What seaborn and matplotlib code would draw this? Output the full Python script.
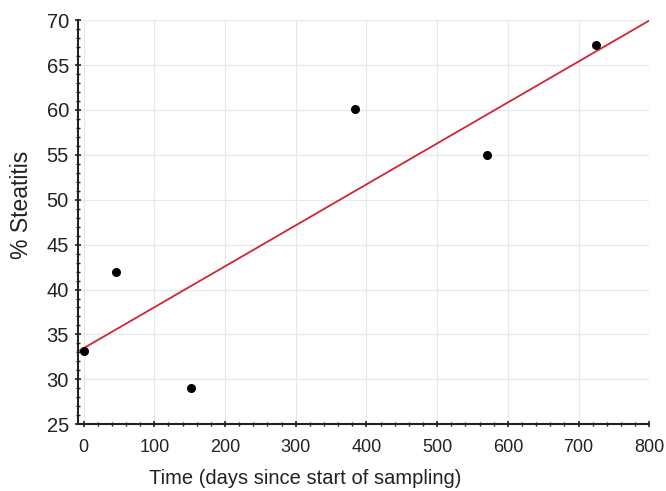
import matplotlib
matplotlib.use("Agg")
import matplotlib.pyplot as plt
import seaborn as sns
import numpy as np
import pandas as pd
from matplotlib.ticker import MultipleLocator

days = [0, 46, 152, 384, 570, 725]
steatitis = [33.1, 42.0, 29.0, 60.1, 55.0, 67.2]
x_label = "Time (days since start of sampling)"
y_label = "% Steatitis"

df = pd.DataFrame({"days": days, "steatitis": steatitis})

sns.set_style("white")
plt.rcParams["font.family"] = ["Liberation Sans", "DejaVu Sans"]

fig = plt.figure(figsize=(6.66, 4.91), dpi=100)
ax = fig.add_axes([0.117, 0.136, 0.858, 0.823])
ax.set_xlim(-8, 800)
ax.set_ylim(25, 70)

sns.regplot(data=df, x="days", y="steatitis", ax=ax, ci=None, truncate=False,
            scatter_kws=dict(color="black", s=30, edgecolor="black", alpha=1, zorder=3),
            line_kws=dict(color="#d02535", linewidth=1.3, zorder=2))

ax.set_xlim(-8, 800)
ax.set_ylim(25, 70)
ax.xaxis.set_major_locator(MultipleLocator(100))
ax.xaxis.set_minor_locator(MultipleLocator(20))
ax.yaxis.set_major_locator(MultipleLocator(5))
ax.yaxis.set_minor_locator(MultipleLocator(1))
ax.grid(True, which="major", color="#e8e8e8", linewidth=0.9)
ax.set_axisbelow(True)

for s in ["top", "right"]:
    ax.spines[s].set_visible(False)
for s in ["left", "bottom"]:
    ax.spines[s].set_color("#222222")
    ax.spines[s].set_linewidth(1.5)

ax.tick_params(axis="both", which="major", direction="inout", length=5, width=1.2,
               color="#222222", labelcolor="#222222", bottom=True, left=True)
ax.tick_params(axis="both", which="minor", direction="inout", length=3, width=1,
               color="#222222", bottom=True, left=True)
ax.tick_params(axis="x", which="major", labelsize=13, pad=8)
ax.tick_params(axis="y", which="major", labelsize=14.5, pad=4)

ax.set_xlabel(x_label, fontsize=14.5, color="#222222")
ax.set_ylabel(y_label, fontsize=16.5, color="#222222")
ax.xaxis.set_label_coords(0.397, -0.110)
ax.yaxis.set_label_coords(-0.079, 0.542)

fig.savefig("out.png", dpi=100)
